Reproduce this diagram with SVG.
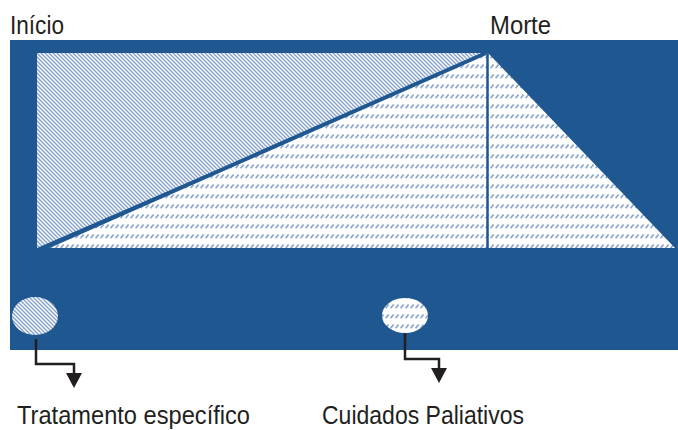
<svg xmlns="http://www.w3.org/2000/svg" width="678" height="430" viewBox="0 0 678 430">
<style>
.lbl{font-family:"Liberation Sans","DejaVu Sans",sans-serif;font-size:25px;fill:#231f20}
.conn{fill:none;stroke:#231f20;stroke-width:2.5}
.head{fill:#231f20}
</style>
<defs>
<pattern id="diag" patternUnits="userSpaceOnUse" width="4" height="4">
<rect width="4" height="4" fill="#ffffff"/>
<path d="M-1,-1 L5,5 M-1,3 L1,5 M3,-1 L5,1" stroke="#86a3cf" stroke-width="1.4"/>
</pattern>
<pattern id="dash" patternUnits="userSpaceOnUse" width="5" height="10">
<rect width="5" height="10" fill="#ffffff"/>
<path d="M0.6,8.2 L3.6,4.6" stroke="#86a3cf" stroke-width="1.6"/>
</pattern>
</defs>
<rect x="10" y="40" width="668" height="310" fill="#1f5791"/>
<g id="fase-tratamento">
<polygon points="37,53 486,53 37,248" fill="url(#diag)"/>
</g>
<g id="fase-paliativos">
<polygon points="486,53 488,53 675,248 44,248" fill="url(#dash)"/>
</g>
<line x1="38" y1="251" x2="486" y2="53" stroke="#1f5791" stroke-width="4"/>
<line x1="487.5" y1="53" x2="487.5" y2="248" stroke="#1f5791" stroke-width="2.5"/>
<g id="inicio"><text class="lbl" x="10" y="34" textLength="54" lengthAdjust="spacingAndGlyphs">Início</text></g>
<g id="morte"><text class="lbl" x="490" y="34" textLength="61" lengthAdjust="spacingAndGlyphs">Morte</text></g>
<g id="circulo-tratamento"><ellipse cx="35" cy="316" rx="23" ry="19" fill="url(#diag)"/></g>
<g id="circulo-paliativos"><ellipse cx="405" cy="315.5" rx="23" ry="17.5" fill="url(#dash)"/></g>
<g id="tratamento-especifico"><text class="lbl" x="17" y="424" textLength="233" lengthAdjust="spacingAndGlyphs">Tratamento específico</text></g>
<g id="cuidados-paliativos"><text class="lbl" x="322" y="424" textLength="202" lengthAdjust="spacingAndGlyphs">Cuidados Paliativos</text></g>
<g id="connectors">
<path class="conn" d="M36,339 V364 H74 V374"/>
<polygon class="head" points="66,373 82,373 74,388"/>
<path class="conn" d="M405,333 V359 H439 V369"/>
<polygon class="head" points="431,368 447,368 439,383"/>
</g>
</svg>
